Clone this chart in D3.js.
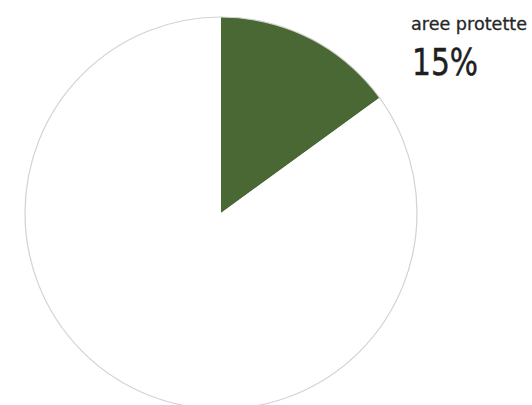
<!DOCTYPE html>
<html>
<head>
<meta charset="utf-8">
<script src="https://cdn.jsdelivr.net/npm/d3@7"></script>
<style>
  html, body { margin: 0; padding: 0; background: #fff; }
  svg { display: block; }
</style>
</head>
<body>
<svg id="chart" width="532" height="405"></svg>
<script>
// Share of territory under protection
const categories = ["aree protette", "altro"];
const values = [15, 85];
const colors = ["#4a6834", "#ffffff"];

const width = 532, height = 405;
const cx = 221, cy = 213, radius = 196;

const svg = d3.select("#chart");
const g = svg.append("g").attr("transform", `translate(${cx},${cy})`);

const pie = d3.pie().sort(null).value(d => d.value);
const arc = d3.arc().innerRadius(0).outerRadius(radius);

const data = categories.map((c, i) => ({ name: c, value: values[i], color: colors[i] }));

g.selectAll("path.slice")
  .data(pie(data))
  .join("path")
  .attr("class", "slice")
  .attr("d", arc)
  .attr("fill", d => d.data.color);

// thin outline around the whole disc
g.append("circle")
  .attr("r", radius)
  .attr("fill", "none")
  .attr("stroke", "#d2d2d2")
  .attr("stroke-width", 1.2);

// label for the highlighted share
const total = d3.sum(values);
const pct = d3.format(".0%")(values[0] / total);

svg.append("text")
  .attr("x", 411)
  .attr("y", 30)
  .attr("font-family", "DejaVu Sans")
  .attr("font-size", 18.5)
  .attr("fill", "#262626")
  .attr("stroke", "#262626")
  .attr("stroke-width", 0.3)
  .attr("textLength", 116)
  .attr("lengthAdjust", "spacingAndGlyphs")
  .text(categories[0]);

svg.append("text")
  .attr("x", 412)
  .attr("y", 75)
  .attr("font-family", "DejaVu Sans")
  .attr("font-size", 37)
  .attr("fill", "#1e1e1e")
  .attr("stroke", "#1e1e1e")
  .attr("stroke-width", 0.5)
  .attr("textLength", 66)
  .attr("lengthAdjust", "spacingAndGlyphs")
  .text(pct);
</script>
</body>
</html>
